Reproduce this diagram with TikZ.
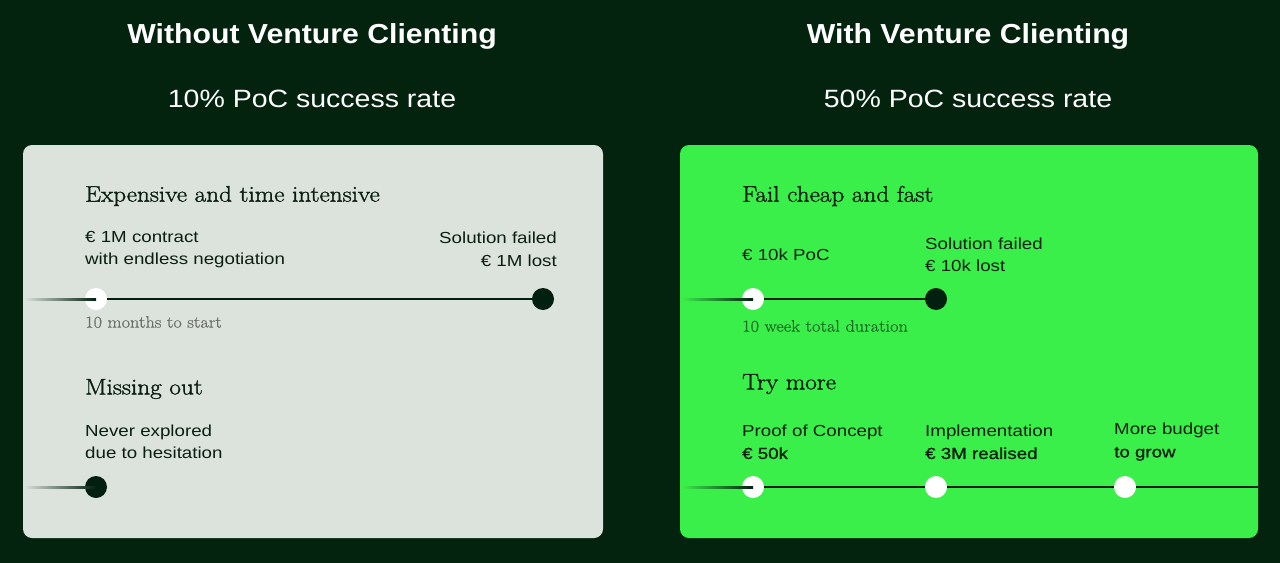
\documentclass[tikz,border=0pt]{standalone}
\usepackage{fontspec}
\newfontfamily\titlefont{Liberation Sans}[FakeStretch=1.10]
\newfontfamily\subfont{Liberation Sans}[FakeStretch=1.14]
\newfontfamily\bodyfont{Liberation Sans}[FakeStretch=1.17]
\newfontfamily\bodymed{Liberation Sans}[FakeStretch=1.17,FakeBold=1]
\newfontfamily\headfont{Latin Modern Roman}[FakeStretch=1.12,FakeBold=1.5]
\newfontfamily\notefont{Latin Modern Roman}[FakeStretch=1.11,FakeBold=0.8]
\usepackage{tikz}
\usetikzlibrary{shapes,arrows,positioning}
\definecolor{bgdark}{HTML}{03230F}
\definecolor{cardgrey}{HTML}{DCE3DC}
\definecolor{cardgreen}{HTML}{3BEF4A}
\definecolor{dotdark}{HTML}{02200F}
\definecolor{inkdark}{HTML}{0A1F10}
\definecolor{inkgrey}{HTML}{6B6F6B}
\definecolor{inkgreen}{HTML}{1E6B28}
\tikzset{
  title/.style={text=white, font=\titlefont\bfseries\fontsize{27.5bp}{30bp}\selectfont},
  subtitle/.style={text=white, font=\subfont\fontsize{25bp}{28bp}\selectfont},
  heading/.style={anchor=west, inner sep=0, text=inkdark, font=\headfont\fontsize{22.5bp}{26bp}\selectfont},
  label/.style={inner sep=0, text=inkdark, font=\bodyfont\fontsize{16bp}{22.5bp}\selectfont},
  note/.style={anchor=west, inner sep=0, font=\notefont\fontsize{16.5bp}{18bp}\selectfont},
  wdot/.style={circle, fill=white, minimum size=22bp, inner sep=0},
  ddot/.style={circle, fill=dotdark, minimum size=22bp, inner sep=0},
  track/.style={line width=2bp, dotdark}
}
\begin{document}
\begin{tikzpicture}
\fill[bgdark] (0bp,0bp) rectangle (1280bp,-563bp);
\fill[cardgrey, rounded corners=9bp] (23bp,-145bp) rectangle (603bp,-538bp);
\fill[cardgreen, rounded corners=9bp] (680bp,-145bp) rectangle (1258bp,-538bp);

% titles
\node (T1) at (312bp,-36bp)[title] {Without Venture Clienting};
\node (T2) at (968bp,-36bp)[title] {With Venture Clienting};
\node (S1) at (312bp,-99bp)[subtitle] {10\% PoC success rate};
\node (S2) at (968bp,-99bp)[subtitle] {50\% PoC success rate};

% left card
\node (H1) at (85bp,-196bp)[heading] {Expensive and time intensive};
\node (L1) at (85bp,-249.5bp)[label,anchor=west,align=left] {€ 1M contract\\with endless negotiation};
\node (L2) at (557bp,-249.5bp)[label,anchor=east,align=right] {Solution failed\\€ 1M lost};
\coordinate (A0) at (24bp,-299bp);
\node (A1) at (96bp,-299bp)[wdot] {};
\node (A2) at (543bp,-299bp)[ddot] {};
\shade[left color=cardgrey, right color=dotdark] ([yshift=1bp]A0) rectangle ([yshift=-1bp]A1.center);
\draw[track] (A1) -- (A2);
\node (N1) at (85bp,-322bp)[note,text=inkgrey] {10 months to start};

\node (H2) at (85bp,-389bp)[heading] {Missing out};
\node (L3) at (85bp,-442bp)[label,anchor=west,align=left] {Never explored\\due to hesitation};
\coordinate (B0) at (24bp,-487bp);
\node (B1) at (96bp,-487bp)[ddot] {};
\shade[left color=cardgrey, right color=dotdark] ([yshift=1bp]B0) rectangle ([yshift=-1bp]B1.center);

% right card
\node (H3) at (742bp,-196bp)[heading] {Fail cheap and fast};
\node (R1) at (742bp,-255bp)[label,anchor=west] {€ 10k PoC};
\node (R2) at (925bp,-255bp)[label,anchor=west,align=left] {Solution failed\\€ 10k lost};
\coordinate (C0) at (681bp,-299bp);
\node (C1) at (753bp,-299bp)[wdot] {};
\node (C2) at (936bp,-299bp)[ddot] {};
\shade[left color=cardgreen, right color=dotdark] ([yshift=1bp]C0) rectangle ([yshift=-1bp]C1.center);
\draw[track] (C1) -- (C2);
\node (N2) at (742bp,-326bp)[note,text=inkgreen] {10 week total duration};

\node (H4) at (742bp,-384bp)[heading] {Try more};
\node (R3) at (742bp,-442bp)[label,anchor=west,align=left] {Proof of Concept\\{\bodymed € 50k}};
\node (R4) at (925bp,-442bp)[label,anchor=west,align=left] {Implementation\\{\bodymed € 3M realised}};
\node (R5) at (1114bp,-442bp)[label,anchor=west,align=left] {More budget\\{\bodymed to grow}};
\coordinate (D0) at (681bp,-487bp);
\coordinate (D4) at (1258bp,-487bp);
\node (D1) at (753bp,-487bp)[wdot] {};
\node (D2) at (936bp,-487bp)[wdot] {};
\node (D3) at (1125bp,-487bp)[wdot] {};
\shade[left color=cardgreen, right color=dotdark] ([yshift=1bp]D0) rectangle ([yshift=-1bp]D1.center);
\draw[track] (D1) -- (D2);
\draw[track] (D2) -- (D3);
\draw[track] (D3) -- (D4);
\end{tikzpicture}
\end{document}
